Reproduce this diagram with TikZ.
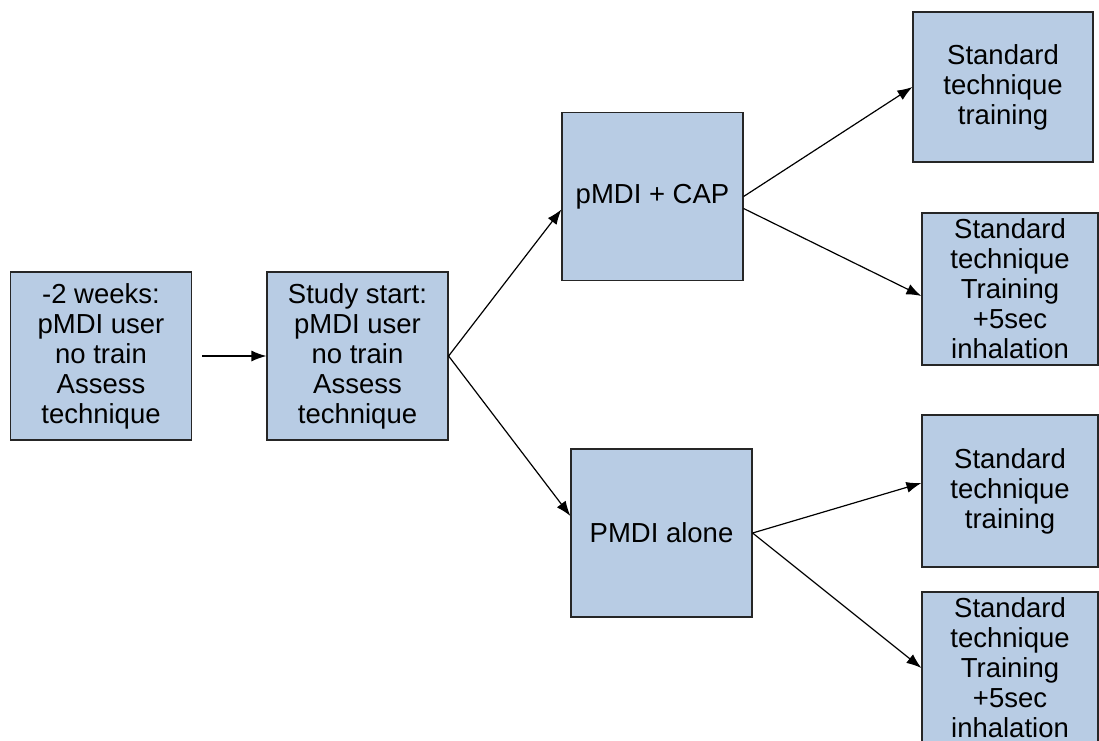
\documentclass[tikz,border=0pt]{standalone}
\usepackage{fontspec}
\setmainfont{Liberation Sans}
\usetikzlibrary{arrows.meta,positioning}
\definecolor{boxblue}{HTML}{B8CCE4}
\tikzset{
	box/.style={rectangle,draw=black!85,fill=boxblue,line width=1.2pt,align=center,inner sep=0pt,font=\fontsize{27.5}{30}\selectfont},
	wide/.style={box,minimum width=181pt,minimum height=168pt},
	arm/.style={box,minimum width=176pt,minimum height=152pt},
	diredge/.style={-{Latex[length=15pt,width=11pt]},color=black,line width=1.2pt}
}
\begin{document}
\begin{tikzpicture}[x=1pt,y=-1pt]
		\clip (0,0) rectangle (1099,740);
		%%%screening and baseline
		\node[wide] (pre) at (101,356) {-2 weeks:\\pMDI user\\no train\\Assess\\technique};
		\node[wide] (start) at (357.5,356) {Study start:\\pMDI user\\no train\\Assess\\technique};
		
		%%%the two arms
		\node[wide] (cap) at (652.5,196.5) {pMDI + CAP};
		\node[wide] (alone) at (661.5,533) {PMDI alone};
		
		%%%training groups
		\node[arm,minimum width=180pt,minimum height=150pt] (capstd) at (1003,87) {Standard\\technique\\training};
		\node[arm] (capinh) at (1010,289) {Standard\\technique\\Training\\+5sec\\inhalation};
		\node[arm] (alonestd) at (1010,491) {Standard\\technique\\training};
		\node[arm] (aloneinh) at (1010,668) {Standard\\technique\\Training\\+5sec\\inhalation};
		
		\draw[diredge] ([xshift=10pt]pre.east) -- (start);
		\draw[diredge] (start.east) -- ([yshift=-13pt]cap.west);
		\draw[diredge] (start.east) -- ([yshift=17pt]alone.west);
		
		\draw[diredge] (cap.east) -- (capstd.west);
		\draw[diredge] ([yshift=-12pt]cap.east) -- ([yshift=-7pt]capinh.west);
		\draw[diredge] (alone.east) -- ([yshift=8pt]alonestd.west);
		\draw[diredge] (alone.east) -- (aloneinh.west);
		
		%\draw[diredge] (cap.south) -- (alone.north);
	\end{tikzpicture}
\end{document}
